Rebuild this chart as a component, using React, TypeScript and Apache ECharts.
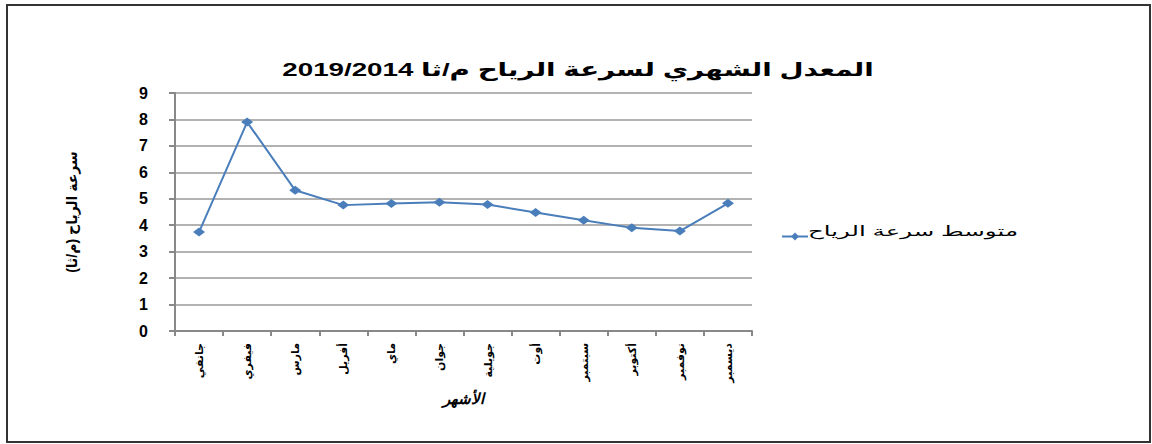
import React, { useEffect, useRef } from "react";
import * as echarts from "echarts";

const months = ["جانفي", "فيفري", "مارس", "أفريل", "ماي", "جوان", "جويلية", "أوت", "سبتمبر", "أكتوبر", "نوفمبر", "ديسمبر"];
const windSpeed = [3.74, 7.9, 5.32, 4.76, 4.82, 4.87, 4.78, 4.48, 4.19, 3.9, 3.78, 4.83];
const seriesName = "متوسط سرعة الرياح";
const titleText = "المعدل الشهري لسرعة الرياح م/ثا 2019/2014";
const xName = "الأشهر";
const yName = "سرعة الرياح (م/ثا)";

const FONT = "Arial, 'Liberation Sans', 'DejaVu Sans', sans-serif";

export default function App() {
  const ref = useRef<HTMLDivElement>(null);
  useEffect(() => {
    if (!ref.current) return;
    const chart = echarts.init(ref.current, undefined, { renderer: "svg" });
    chart.setOption({
      animation: false,
      backgroundColor: "#ffffff",
      legend: {
        show: true,
        left: 776,
        top: 225,
        itemWidth: 26,
        itemHeight: 10,
        itemGap: 4,
        data: [seriesName],
        formatter: () => " ",
        textStyle: { fontFamily: FONT, fontSize: 13, color: "#000" },
      },
      graphic: [
        {
          type: "rect",
          shape: { x: 7, y: 5, width: 1143, height: 437 },
          style: { fill: "none", stroke: "#333", lineWidth: 2 },
          silent: true,
        },
        {
          type: "text",
          x: 578,
          y: 69,
          scaleX: 1.46,
          style: {
            text: titleText,
            textAlign: "center",
            textVerticalAlign: "middle",
            fontFamily: FONT,
            fontSize: 19,
            fontWeight: "bold",
            fill: "#000",
          },
          silent: true,
        },
        {
          type: "text",
          x: 1018,
          y: 231,
          scaleX: 1.75,
          style: {
            text: seriesName,
            textAlign: "right",
            textVerticalAlign: "middle",
            fontFamily: FONT,
            fontSize: 14,
            fill: "#000",
          },
          silent: true,
        },
      ],
      grid: { left: 175, right: 400, top: 93, height: 238 },
      xAxis: {
        type: "category",
        data: months,
        boundaryGap: true,
        name: xName,
        nameLocation: "middle",
        nameGap: 56,
        nameTextStyle: { fontFamily: FONT, fontSize: 15, fontWeight: "bold", fontStyle: "italic", color: "#000" },
        axisLine: { lineStyle: { color: "#888", width: 2 } },
        axisTick: { show: true, alignWithLabel: false, length: 5, lineStyle: { color: "#888", width: 2 } },
        axisLabel: { rotate: 90, margin: 12, fontFamily: FONT, fontSize: 11, fontWeight: "bold", color: "#000" },
      },
      yAxis: {
        type: "value",
        min: 0,
        max: 9,
        interval: 1,
        name: yName,
        nameLocation: "middle",
        nameGap: 96,
        nameTextStyle: { fontFamily: FONT, fontSize: 14, fontWeight: "bold", color: "#000" },
        axisLine: { show: true, lineStyle: { color: "#888", width: 2 } },
        axisTick: { show: true, length: 6, lineStyle: { color: "#888", width: 2 } },
        axisLabel: { margin: 27, fontFamily: FONT, fontSize: 16, fontWeight: "bold", color: "#000" },
        splitLine: { show: true, lineStyle: { color: "#999", width: 1.5 } },
      },
      series: [
        {
          name: seriesName,
          type: "line",
          data: windSpeed,
          symbol: "diamond",
          symbolSize: [12, 9],
          lineStyle: { color: "#4a7ebb", width: 2 },
          itemStyle: { color: "#4a7ebb" },
        },
      ],
    });
    return () => chart.dispose();
  }, []);
  return (
    <div
      ref={ref}
      style={{ position: "fixed", left: 0, top: 0, width: 1152, height: 444 }}
    />
  );
}
